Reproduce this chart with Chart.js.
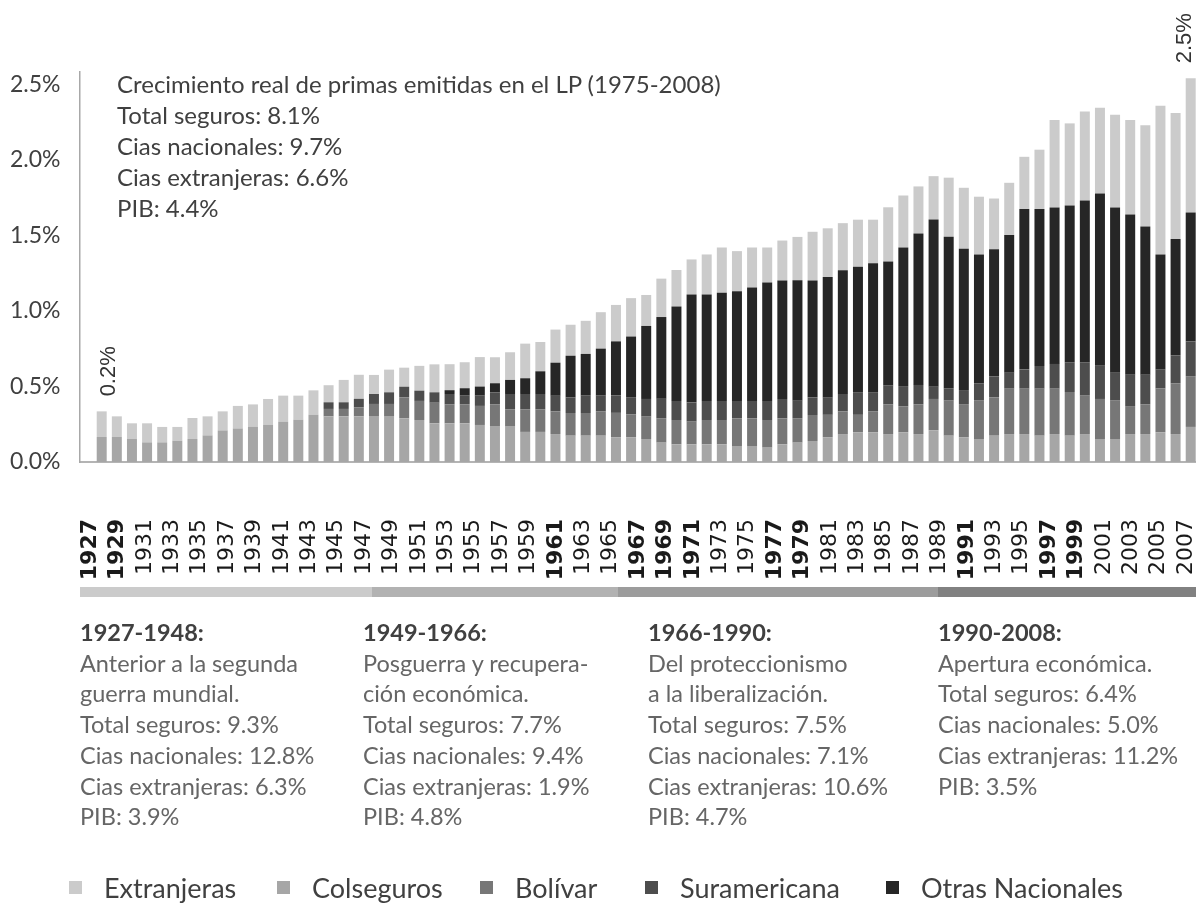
<!DOCTYPE html>
<html><head><meta charset="utf-8">
<script src="https://cdn.jsdelivr.net/npm/chart.js@4.4.1/dist/chart.umd.min.js"></script>
<style>
html,body{margin:0;padding:0;background:#fff;}
#wrap{position:relative;width:1196px;height:905px;overflow:hidden;font-family:Lato,'Open Sans',sans-serif;}
#c{position:absolute;left:0;top:0;}
.note{position:absolute;left:117px;top:68px;color:#404040;font-size:24px;line-height:31px;white-space:nowrap;}
.band{position:absolute;top:587px;height:10px;}
.period{position:absolute;top:617px;font-size:23.5px;line-height:30.7px;color:#666;white-space:nowrap;}
.period b{color:#404040;font-weight:bold;}
.leg{position:absolute;top:872px;height:32px;line-height:32px;font-size:27px;color:#404040;white-space:nowrap;}
.leg i{position:absolute;left:0;top:9px;width:13px;height:13px;}
.leg span{position:absolute;left:35px;top:0;}
</style></head>
<body>
<div id="wrap">
<canvas id="c" width="1196" height="905"></canvas>
<div class="note" id="note"></div>
<div id="bands"></div>
<div id="periods"></div>
<div id="legend"></div>
</div>
<script>
// ---- data (values in % of GDP) ----
const colseguros = [0.166,0.166,0.152,0.130,0.130,0.141,0.152,0.176,0.209,0.222,0.234,0.245,0.267,0.280,0.313,0.302,0.302,0.302,0.300,0.300,0.289,0.278,0.256,0.256,0.256,0.245,0.234,0.234,0.199,0.199,0.185,0.174,0.174,0.174,0.164,0.164,0.152,0.128,0.117,0.117,0.117,0.117,0.106,0.106,0.095,0.117,0.128,0.139,0.164,0.185,0.197,0.197,0.185,0.197,0.185,0.210,0.174,0.164,0.152,0.174,0.185,0.185,0.174,0.185,0.174,0.185,0.152,0.152,0.185,0.185,0.197,0.185,0.232];
const bolivar = [0,0,0,0,0,0,0,0,0,0,0,0,0,0,0,0.049,0.049,0.060,0.084,0.084,0.139,0.126,0.136,0.126,0.126,0.126,0.148,0.115,0.150,0.150,0.150,0.150,0.150,0.162,0.161,0.150,0.148,0.162,0.161,0.150,0.161,0.161,0.183,0.183,0.183,0.172,0.162,0.172,0.148,0.150,0.115,0.139,0.197,0.172,0.197,0.207,0.232,0.219,0.254,0.254,0.300,0.300,0.311,0.300,0.289,0.254,0.265,0.254,0.185,0.197,0.289,0.336,0.336];
const suramericana = [0,0,0,0,0,0,0,0,0,0,0,0,0,0,0,0.044,0.044,0.056,0.066,0.077,0.070,0.068,0.069,0.068,0.057,0.068,0.079,0.101,0.101,0.101,0.103,0.104,0.115,0.103,0.115,0.115,0.117,0.128,0.126,0.126,0.126,0.126,0.115,0.115,0.126,0.128,0.115,0.117,0.117,0.115,0.150,0.126,0.126,0.128,0.128,0.081,0.082,0.093,0.115,0.139,0.106,0.128,0.150,0.164,0.197,0.221,0.219,0.185,0.207,0.196,0.128,0.185,0.229];
const otrasNacionales = [0,0,0,0,0,0,0,0,0,0,0,0,0,0,0,0,0,0,0,0,0,0,0,0.025,0.049,0.060,0.060,0.093,0.104,0.150,0.219,0.275,0.276,0.311,0.358,0.401,0.483,0.541,0.625,0.715,0.704,0.715,0.726,0.750,0.783,0.783,0.797,0.772,0.795,0.819,0.830,0.852,0.819,0.922,1.002,1.106,1.002,0.934,0.852,0.841,0.910,1.060,1.038,1.035,1.037,1.070,1.141,1.093,1.060,0.980,0.759,0.770,0.854];
const extranjeras = [0.169,0.136,0.104,0.126,0.102,0.091,0.139,0.126,0.126,0.149,0.147,0.172,0.172,0.159,0.161,0.113,0.148,0.159,0.126,0.150,0.126,0.164,0.185,0.172,0.172,0.195,0.172,0.183,0.229,0.194,0.219,0.205,0.219,0.241,0.241,0.254,0.205,0.254,0.241,0.232,0.265,0.300,0.265,0.265,0.232,0.265,0.287,0.323,0.322,0.311,0.311,0.289,0.358,0.344,0.311,0.287,0.391,0.404,0.382,0.335,0.346,0.346,0.393,0.579,0.543,0.589,0.566,0.614,0.625,0.669,0.983,0.832,0.887];

const seriesNames = ['Colseguros','Bolívar','Suramericana','Otras Nacionales','Extranjeras'];
const seriesData = [colseguros, bolivar, suramericana, otrasNacionales, extranjeras];
const legendOrder = ['Extranjeras','Colseguros','Bolívar','Suramericana','Otras Nacionales'];

const yTicks = [0, 0.5, 1.0, 1.5, 2.0, 2.5];
const labelYears = [1927,1929,1931,1933,1935,1937,1939,1941,1943,1945,1947,1949,1951,1953,1955,1957,1959,1961,1963,1965,1967,1969,1971,1973,1975,1977,1979,1981,1983,1985,1987,1989,1991,1993,1995,1997,1999,2001,2003,2005,2007];
const boldYears = [1927,1929,1961,1967,1969,1971,1977,1979,1991,1997,1999];

const barLabelIdx = [0, 72];
const barLabelText = ['0.2%', '2.5%'];

const noteLines = ['Crecimiento real de primas emitidas en el LP (1975-2008)','Total seguros: 8.1%','Cias nacionales: 9.7%','Cias extranjeras: 6.6%','PIB: 4.4%'];
const periods = [
  ['1927-1948:','Anterior a la segunda','guerra mundial.','Total seguros: 9.3%','Cias nacionales: 12.8%','Cias extranjeras: 6.3%','PIB: 3.9%'],
  ['1949-1966:','Posguerra y recupera-','ción económica.','Total seguros: 7.7%','Cias nacionales: 9.4%','Cias extranjeras: 1.9%','PIB: 4.8%'],
  ['1966-1990:','Del proteccionismo','a la liberalización.','Total seguros: 7.5%','Cias nacionales: 7.1%','Cias extranjeras: 10.6%','PIB: 4.7%'],
  ['1990-2008:','Apertura económica.','Total seguros: 6.4%','Cias nacionales: 5.0%','Cias extranjeras: 11.2%','PIB: 3.5%']
];

// ---- styles / layout ----
const seriesColors = {'Colseguros':'#a6a6a6','Bolívar':'#777777','Suramericana':'#4d4d4d','Otras Nacionales':'#262626','Extranjeras':'#cbcbcb'};
const periodX = [80, 363, 648, 938];
const bandEdges = [80, 372, 618, 938, 1196];
const bandColors = ['#cbcbcb','#b2b2b2','#9c9c9c','#818181'];
const legendX = [69, 277, 480, 645, 886];
const tickFontSize = 22;
const yearMin = 1926.27, yearMax = 2007.73;

document.getElementById('note').innerHTML = noteLines.map(t => '<div>' + t + '</div>').join('');
let bh = '';
for (let i = 0; i < bandColors.length; i++) {
  bh += '<div class="band" style="left:' + bandEdges[i] + 'px;width:' + (bandEdges[i+1]-bandEdges[i]) + 'px;background:' + bandColors[i] + '"></div>';
}
document.getElementById('bands').innerHTML = bh;
document.getElementById('periods').innerHTML = periods.map((p, i) =>
  '<div class="period" style="left:' + periodX[i] + 'px">' + p.map((t, j) => j === 0 ? '<div><b>' + t + '</b></div>' : '<div>' + t + '</div>').join('') + '</div>').join('');
document.getElementById('legend').innerHTML = legendOrder.map((n, i) =>
  '<div class="leg" style="left:' + legendX[i] + 'px"><i style="background:' + seriesColors[n] + '"></i><span>' + n + '</span></div>').join('');

const datasets = seriesNames.map((n, k) => ({
  label: n,
  data: seriesData[k].map((v, i) => ({x: i, y: v})),
  backgroundColor: seriesColors[n],
  borderWidth: 0,
  categoryPercentage: 1,
  barPercentage: 0.66,
  xAxisID: 'x',
  yAxisID: 'y'
}));

const barLabelPlugin = {
  id: 'barLabels',
  afterDatasetsDraw(chart) {
    const meta = chart.getDatasetMeta(seriesNames.length - 1);
    const ctx = chart.ctx;
    ctx.save();
    ctx.font = '22px "Liberation Sans", Arial, sans-serif';
    ctx.fillStyle = '#333333';
    ctx.textAlign = 'left';
    ctx.textBaseline = 'middle';
    barLabelIdx.forEach((idx, j) => {
      const el = meta.data[idx];
      const x = Math.min(el.x + 7, chart.width - 11);
      ctx.save();
      ctx.translate(x, el.y - 15);
      ctx.rotate(-Math.PI / 2);
      ctx.fillText(barLabelText[j], 0, 0);
      ctx.restore();
    });
    ctx.restore();
  }
};

new Chart(document.getElementById('c'), {
  type: 'bar',
  data: { datasets },
  options: {
    responsive: false,
    animation: false,
    layout: { padding: { top: 72, left: 10, right: 0, bottom: 0 } },
    plugins: { legend: { display: false }, tooltip: { enabled: false } },
    scales: {
      x: {
        type: 'linear', stacked: true, display: false,
        min: -1.435, max: 72.35, offset: false
      },
      x2: {
        type: 'linear', position: 'bottom', axis: 'x', bounds: 'data', offset: false,
        min: yearMin, max: yearMax,
        afterBuildTicks: s => { s.ticks = labelYears.map(v => ({ value: v })); },
        afterFit: s => { s.height = 905 - 462; s.paddingLeft = 0; s.paddingRight = 0; },
        grid: { display: true, offset: false, drawOnChartArea: false, drawTicks: true, tickLength: 55, color: 'rgba(0,0,0,0)' },
        border: { display: true, color: '#b4b4b4', width: 2 },
        ticks: {
          autoSkip: false, minRotation: 90, maxRotation: 90, padding: 2,
          color: '#1a1a1a',
          font: c => ({ family: '"DejaVu Sans", sans-serif', size: tickFontSize, weight: (c.tick && boldYears.includes(c.tick.value)) ? 'bold' : 'normal' }),
          callback: v => String(v)
        }
      },
      y: {
        type: 'linear', stacked: true, min: 0, max: 2.58,
        afterBuildTicks: s => { s.ticks = yTicks.map(v => ({ value: v })); },
        afterFit: s => { s.width = 70; s.paddingTop = 0; s.paddingBottom = 0; },
        grid: { display: false, drawTicks: false },
        border: { display: true, color: '#a8a8a8', width: 1.5 },
        ticks: {
          crossAlign: 'far', padding: 0, color: '#404040',
          font: { family: 'Lato, sans-serif', size: 23 },
          callback: v => v.toFixed(1) + '%'
        }
      }
    }
  },
  plugins: [barLabelPlugin]
});
</script>
</body></html>
